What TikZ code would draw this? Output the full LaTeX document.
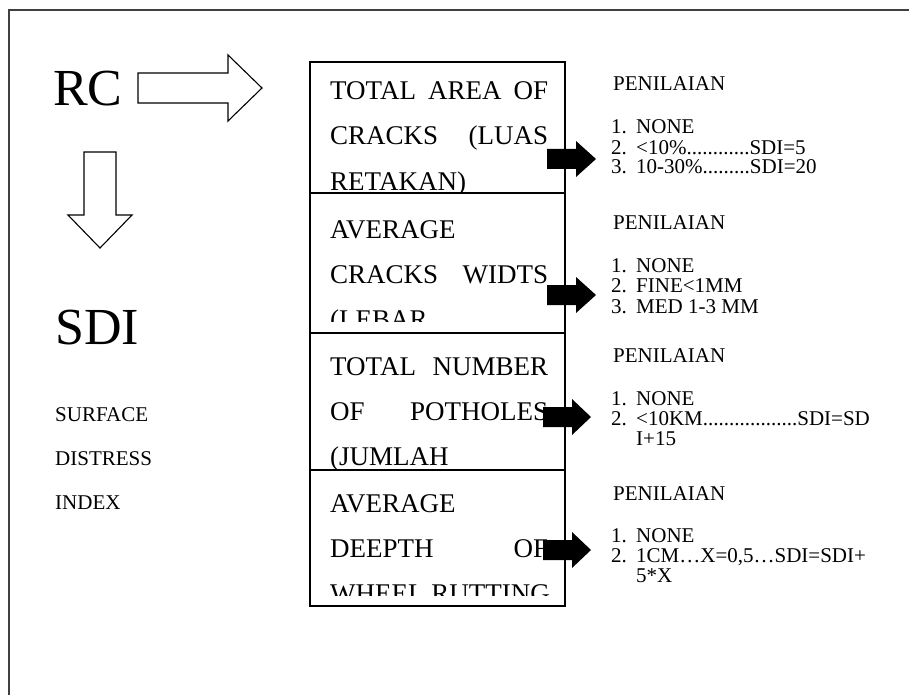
\documentclass[tikz,border=0pt]{standalone}
\usepackage{fontspec}
\setmainfont{Liberation Serif}
\begin{document}
\begin{tikzpicture}[x=1pt,y=-1pt,
  bigtxt/.style={anchor=base west,inner sep=0,font=\fontsize{52}{52}\selectfont},
  boxtxt/.style={anchor=base west,inner sep=0,font=\fontsize{27}{27}\selectfont},
  lefttxt/.style={anchor=base west,inner sep=0,font=\fontsize{21}{21}\selectfont},
  rtxt/.style={anchor=base west,inner sep=0,font=\fontsize{21}{21}\selectfont},
  hollow/.style={draw,line width=1.1pt,fill=white,line join=miter},
  solidarrow/.style={fill=black},
  boxline/.style={draw,line width=1.1pt}]
\useasboundingbox (0,0) rectangle (909,695);
\draw[line width=1.4pt,black!75] (9,695) -- (9,10) -- (909,10);

% left column
\node[bigtxt] (rc) at (53,106) {RC};
\draw[hollow] (138,73) -- (228,73) -- (228,55) -- (262,88) -- (228,121) -- (228,103) -- (138,103) -- cycle;
\draw[hollow] (84,152) -- (116,152) -- (116,215) -- (132,215) -- (100,248) -- (68,215) -- (84,215) -- cycle;
\node[bigtxt] (sdi) at (55,344) {SDI};
\node[lefttxt] (surf) at (55,421) {SURFACE};
\node[lefttxt] (dist) at (55,465) {DISTRESS};
\node[lefttxt] (idx) at (55,509) {INDEX};

% main box
\draw[boxline] (310,62) rectangle (565,606);
\draw[boxline] (310,193) -- (565,193);
\draw[boxline] (310,333) -- (565,333);
\draw[boxline] (310,470) -- (565,470);

\begin{scope}
\clip (310,62) rectangle (565,191);
\node[boxtxt] (a1) at (330,100) {\makebox[218pt][s]{TOTAL AREA OF}};
\node[boxtxt] (a2) at (330,145) {\makebox[218pt][s]{CRACKS (LUAS}};
\node[boxtxt] (a3) at (330,190) {RETAKAN)};
\end{scope}
\begin{scope}
\clip (310,193) rectangle (565,321);
\node[boxtxt] (b1) at (330,238) {AVERAGE};
\node[boxtxt] (b2) at (330,283) {\makebox[218pt][s]{CRACKS WIDTS}};
\node[boxtxt] (b3) at (330,328) {(LEBAR};
\end{scope}
\begin{scope}
\clip (310,333) rectangle (565,470);
\node[boxtxt] (c1) at (330,375) {\makebox[218pt][s]{TOTAL NUMBER}};
\node[boxtxt] (c2) at (330,420) {\makebox[218pt][s]{OF POTHOLES}};
\node[boxtxt] (c3) at (330,465) {(JUMLAH};
\end{scope}
\begin{scope}
\clip (310,470) rectangle (565,595);
\node[boxtxt] (d1) at (330,512) {AVERAGE};
\node[boxtxt] (d2) at (330,557) {\makebox[218pt][s]{DEEPTH OF}};
\node[boxtxt] (d3) at (330,602) {WHEEL RUTTING};
\end{scope}

% black arrows
\fill[solidarrow] (547,149) -- (576,149) -- (576,141) -- (596,159) -- (576,177) -- (576,169) -- (547,169) -- cycle;
\fill[solidarrow] (547,285) -- (576,285) -- (576,277) -- (596,295) -- (576,313) -- (576,305) -- (547,305) -- cycle;
\fill[solidarrow] (543,407) -- (572,407) -- (572,399) -- (591,417) -- (572,435) -- (572,427) -- (543,427) -- cycle;
\fill[solidarrow] (543,540) -- (572,540) -- (572,532) -- (591,550) -- (572,568) -- (572,560) -- (543,560) -- cycle;

% right texts
\node[rtxt] (p1) at (613,91) {PENILAIAN};
\node[rtxt] (p1a) at (611,134) {1.};
\node[rtxt] (p1at) at (636,134) {NONE};
\node[rtxt] (p1b) at (611,154) {2.};
\node[rtxt] (p1bt) at (636,154) {<10\%............SDI=5};
\node[rtxt] (p1c) at (611,174) {3.};
\node[rtxt] (p1ct) at (636,174) {10-30\%.........SDI=20};

\node[rtxt] (p2) at (613,229) {PENILAIAN};
\node[rtxt] (p2a) at (611,272) {1.};
\node[rtxt] (p2at) at (636,272) {NONE};
\node[rtxt] (p2b) at (611,292) {2.};
\node[rtxt] (p2bt) at (636,292) {FINE<1MM};
\node[rtxt] (p2c) at (611,313) {3.};
\node[rtxt] (p2ct) at (636,313) {MED 1-3 MM};

\node[rtxt] (p3) at (613,362) {PENILAIAN};
\node[rtxt] (p3a) at (611,405) {1.};
\node[rtxt] (p3at) at (636,405) {NONE};
\node[rtxt] (p3b) at (611,425) {2.};
\node[rtxt] (p3bt) at (636,425) {<10KM..................SDI=SD};
\node[rtxt] (p3bu) at (636,445) {I+15};

\node[rtxt] (p4) at (613,500) {PENILAIAN};
\node[rtxt] (p4a) at (611,542) {1.};
\node[rtxt] (p4at) at (636,542) {NONE};
\node[rtxt] (p4b) at (611,562) {2.};
\node[rtxt] (p4bt) at (636,562) {1CM…X=0,5…SDI=SDI+};
\node[rtxt] (p4bu) at (636,582) {5*X};
\end{tikzpicture}
\end{document}
